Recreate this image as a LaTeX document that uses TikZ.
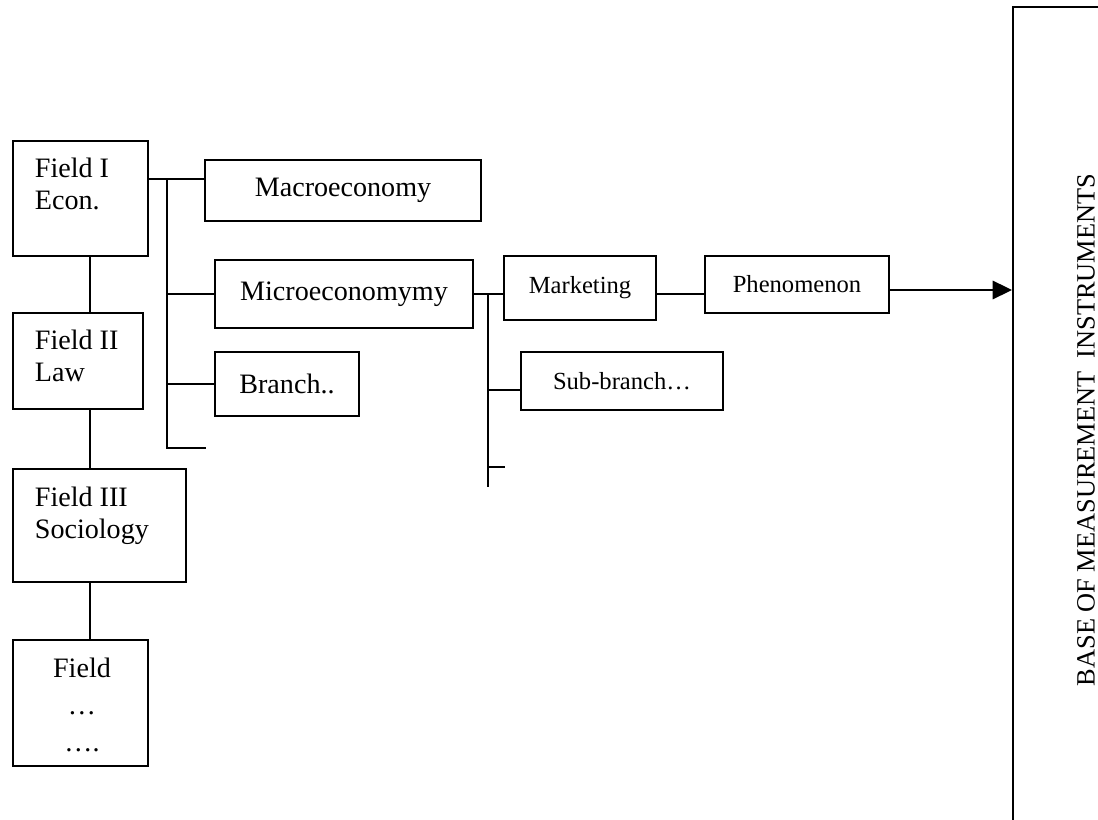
\documentclass[tikz,border=0pt]{standalone}
\usepackage{fontspec}
\setmainfont{Liberation Serif}
\usetikzlibrary{arrows.meta}

\begin{document}
\begin{tikzpicture}[x=0.02cm,y=-0.02cm,line width=1pt,
	box/.style={draw,line width=1.15pt,inner sep=0pt,font=\fontsize{16}{18.2}\selectfont},
	smallbox/.style={box,font=\fontsize{14}{16}\selectfont},
	fieldtext/.style={inner sep=0pt,anchor=north west,align=left,font=\fontsize{16}{18.2}\selectfont}]
	\useasboundingbox (0,0) rectangle (1098,820);
	\clip (0,0) rectangle (1098,820);
	\node[box,minimum width=2.7cm,minimum height=2.3cm] (f1) at (80.5,198.5) {};
	\node[box,minimum width=2.6cm,minimum height=1.92cm] (f2) at (78,361) {};
	\node[box,minimum width=3.46cm,minimum height=2.26cm] (f3) at (99.5,525.5) {};
	\node[box,minimum width=2.7cm,minimum height=2.52cm] (f4) at (80.5,703) {};
	\node[fieldtext] (t1) at (34,157) {Field I\\Econ.};
	\node[fieldtext] (t2) at (34,329) {Field II\\Law};
	\node[fieldtext] (t3) at (34,486) {Field III\\Sociology};
	\node[fieldtext,anchor=north,align=center,font=\fontsize{16}{21}\selectfont] (t4) at (82,657) {Field\\…\\….};
	\coordinate (spine) at (90,0);
	\draw (spine |- f1.south) -- (spine |- f2.north);
	\draw (spine |- f2.south) -- (spine |- f3.north);
	\draw (spine |- f3.south) -- (spine |- f4.north);
	\node[box,minimum width=5.52cm,minimum height=1.22cm] (macro) at (343,190.5) {Macroeconomy};
	\node[box,minimum width=5.16cm,minimum height=1.36cm] (micro) at (344,294) {Microeconomymy};
	\node[box,minimum width=2.88cm,minimum height=1.28cm] (branch) at (287,384) {Branch..};
	\coordinate (bus1) at (167,179);
	\coordinate (stub1) at (206,448);
	\draw (bus1 -| f1.east) -- (bus1 -| macro.west);
	\draw (bus1) |- (stub1);
	\draw (bus1 |- micro.west) -- (micro.west);
	\draw (bus1 |- branch.west) -- (branch.west);
	\node[smallbox,minimum width=3.04cm,minimum height=1.28cm] (mkt) at (580,288) {Marketing};
	\node[smallbox,minimum width=3.68cm,minimum height=1.14cm] (phen) at (797,284.5) {Phenomenon};
	\node[smallbox,minimum width=4.04cm,minimum height=1.16cm] (sub) at (622,381) {Sub-branch…};
	\coordinate (bus2) at (488,294);
	\coordinate (end2) at (488,487);
	\coordinate (stub2) at (505,467);
	\coordinate (subin) at ([yshift=-0.18cm]sub.west);
	\draw (micro.east) -- (micro.east -| mkt.west);
	\draw (mkt.east |- micro.east) -- (phen.west |- micro.east);
	\draw (bus2) -- (end2);
	\draw (subin -| bus2) -- (subin);
	\draw (stub2 -| bus2) -- (stub2);
	\node[draw,line width=1.3pt,inner sep=0pt,anchor=north west,minimum width=4cm,minimum height=17cm] (base) at (1012,6) {};
	\node[rotate=90,inner sep=0pt,font=\fontsize{15}{18}\selectfont] (basetext) at (1086,430) {BASE OF MEASUREMENT\ \ INSTRUMENTS};
	\draw[-{Triangle[length=11pt,width=10.5pt]}] ([yshift=-0.11cm]phen.east) -- ([yshift=-0.11cm]phen.east -| base.west);
\end{tikzpicture}
\end{document}
